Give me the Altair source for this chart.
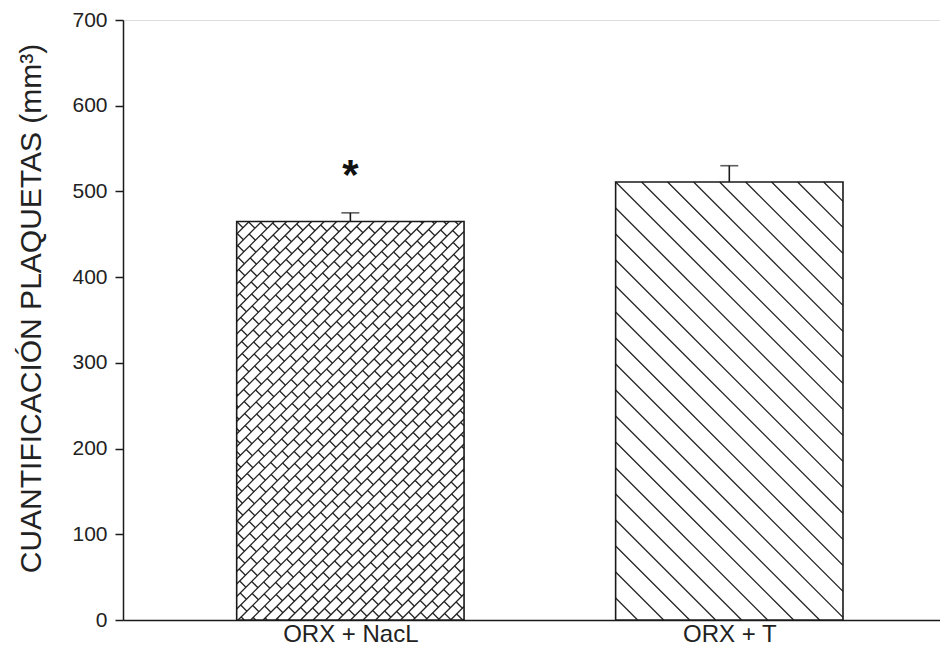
import json
import altair as alt
import pandas as pd

# ---------------- data ----------------
categories = ["ORX + NacL", "ORX + T"]
means = [465, 511]
errors = [10, 19]
significance = ["*", ""]
y_ticks = [0, 100, 200, 300, 400, 500, 600, 700]
y_title = "CUANTIFICACIÓN PLAQUETAS (mm³)"

# ---------------- layout / style constants ----------------
PLOT_W, PLOT_H = 817, 600
X_DOMAIN = [-0.6, 1.556]
Y_DOMAIN = [0, 700]
BAR_HALF = 0.3
INK = "#1a1a1a"
FONT = "Liberation Sans"

kx = PLOT_W / (X_DOMAIN[1] - X_DOMAIN[0])  # px per x unit
ky = PLOT_H / (Y_DOMAIN[1] - Y_DOMAIN[0])  # px per y unit


def clip(x1, y1, x2, y2, W, H):
    """Liang-Barsky clipping of a segment to [0,W]x[0,H]."""
    dx, dy = x2 - x1, y2 - y1
    t0, t1 = 0.0, 1.0
    for p, q in ((-dx, x1), (dx, W - x1), (-dy, y1), (dy, H - y1)):
        if p == 0:
            if q < 0:
                return None
            continue
        r = q / p
        if p < 0:
            if r > t1:
                return None
            t0 = max(t0, r)
        else:
            if r < t0:
                return None
            t1 = min(t1, r)
    if t1 - t0 < 1e-6:
        return None
    return (x1 + t0 * dx, y1 + t0 * dy, x1 + t1 * dx, y1 + t1 * dy)


def hatch(pos, mean, style):
    W = 2 * BAR_HALF * kx
    H = mean * ky
    segs = []
    big = W + H
    if style == "diag":
        h = 26.0
        k = -int(big / h) - 1
        while k * h < big:
            c = k * h
            segs.append((-big, -big + c, 2 * big, 2 * big + c))
            k += 1
    else:  # brick
        p, q = 12.5, 23.0
        nrows = int(big / p) + 2
        for r in range(-1, nrows):
            a = r * p
            segs.append((-big, a + big, 2 * big, a - 2 * big))
            off = 0.5 * q * (r % 2)
            kk = int(-big / q) - 2
            while kk * q < big:
                t = kk * q + off
                b = a + p
                segs.append(((t + a) / 2, (a - t) / 2, (t + b) / 2, (b - t) / 2))
                kk += 1
    rows = []
    for s in segs:
        c = clip(*s, W, H)
        if c is None:
            continue
        X1, Y1, X2, Y2 = c
        rows.append({
            "hx": pos - BAR_HALF + X1 / kx, "hy": mean - Y1 / ky,
            "hx2": pos - BAR_HALF + X2 / kx, "hy2": mean - Y2 / ky,
        })
    return rows


bars_df = pd.DataFrame({
    "category": categories,
    "pos": list(range(len(categories))),
    "mean": means,
    "err": errors,
    "sig": significance,
})

styles = ["brick", "diag"]
hatch_rows = []
for i, (m, st) in enumerate(zip(means, styles)):
    hatch_rows += hatch(i, m, st)
hatch_df = pd.DataFrame(hatch_rows)

xscale = alt.Scale(domain=X_DOMAIN, nice=False, zero=False)
yscale = alt.Scale(domain=Y_DOMAIN, nice=False)

label_expr = json.dumps(categories) + "[datum.value]"

x_axis = alt.Axis(values=list(range(len(categories))), labelExpr=label_expr,
                  ticks=False, grid=False, title=None, labelFontSize=24,
                  labelPadding=2, labelColor="#222", domainColor=INK,
                  domainWidth=1.5, labelFont=FONT)
y_axis = alt.Axis(values=y_ticks, grid=False, tickSize=8, tickWidth=1.5,
                  tickColor=INK, domainColor=INK, domainWidth=1.5,
                  labelFontSize=21, labelPadding=8, labelColor="#222",
                  labelFont=FONT, title=y_title, titleFontSize=30,
                  titleFontWeight="normal", titleColor="#222", titleFont=FONT,
                  titleX=-92, titleY=288, titleBaseline="middle")

base = alt.Chart(bars_df).transform_calculate(
    x0=f"datum.pos - {BAR_HALF}", x1=f"datum.pos + {BAR_HALF}",
    top="datum.mean + datum.err",
)

bar_fill = base.mark_rect(fill="white", stroke=None).encode(
    x=alt.X("x0:Q", scale=xscale, axis=x_axis), x2="x1:Q",
    y=alt.Y("mean:Q", scale=yscale, axis=y_axis), y2=alt.datum(0),
)

hatch_layer = alt.Chart(hatch_df).mark_rule(color="#222", strokeWidth=1.3).encode(
    x=alt.X("hx:Q", scale=xscale), x2="hx2:Q",
    y=alt.Y("hy:Q", scale=yscale), y2="hy2:Q",
)

bar_outline = base.mark_rect(fill=None, stroke=INK, strokeWidth=1.6).encode(
    x=alt.X("x0:Q", scale=xscale), x2="x1:Q",
    y=alt.Y("mean:Q", scale=yscale), y2=alt.datum(0),
)

err_rule = base.mark_rule(color=INK, strokeWidth=1.6).encode(
    x=alt.X("pos:Q", scale=xscale), y=alt.Y("mean:Q", scale=yscale), y2="top:Q",
)

err_cap = base.mark_tick(color=INK, thickness=1.6, size=18, orient="horizontal").encode(
    x=alt.X("pos:Q", scale=xscale), y=alt.Y("top:Q", scale=yscale),
)

star = base.mark_text(fontSize=42, fontWeight="bold", baseline="alphabetic",
                      dy=-24, color="#111", font=FONT).encode(
    x=alt.X("pos:Q", scale=xscale), y=alt.Y("top:Q", scale=yscale), text="sig:N",
)

chart = alt.layer(bar_fill, hatch_layer, bar_outline, err_rule, err_cap, star).properties(
    width=PLOT_W, height=PLOT_H,
    autosize=alt.AutoSizeParams(type="none"),
    padding={"left": 115, "top": 12, "right": 0, "bottom": 27},
).configure_view(stroke=None).configure(font=FONT, background="white")

chart.save("out.html", embed_options={"renderer": "svg", "actions": False})
